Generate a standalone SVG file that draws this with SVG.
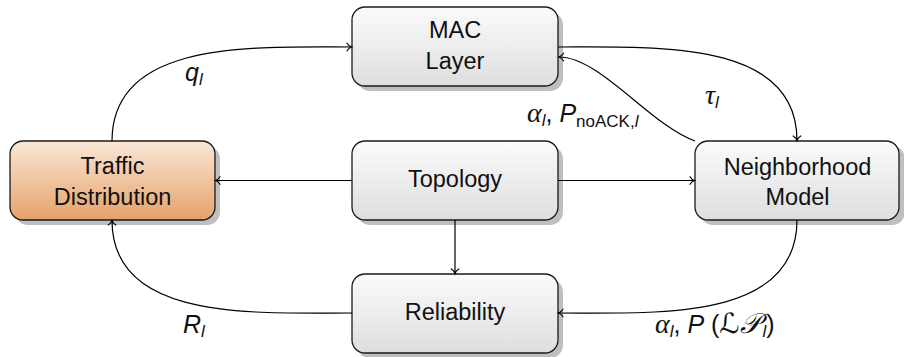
<svg xmlns="http://www.w3.org/2000/svg" width="904" height="357" viewBox="0 0 904 357">
<defs>
<linearGradient id="gGray" x1="0" y1="0" x2="0" y2="1">
<stop offset="0" stop-color="#fbfbfb"/>
<stop offset="1" stop-color="#dedede"/>
</linearGradient>
<linearGradient id="gOrange" x1="0" y1="0" x2="0" y2="1">
<stop offset="0" stop-color="#fae7d8"/>
<stop offset="1" stop-color="#e5a269"/>
</linearGradient>
<marker id="arr" markerUnits="userSpaceOnUse" markerWidth="12" markerHeight="12" viewBox="-6 -6 12 12" refX="0" refY="0" orient="auto">
<path d="M-4.5,-3.8 C-3.2,-1.6 -1.2,-0.4 0,0 C-1.2,0.4 -3.2,1.6 -4.5,3.8" fill="none" stroke="#000" stroke-width="1.2" stroke-linecap="round"/>
</marker>
</defs>
<style>
.shadow{fill:#bfbfbf}
.box{stroke:#1a1a1a;stroke-width:1.3}
.gray{fill:url(#gGray)}
.orange{fill:url(#gOrange)}
.lbl{font-family:"Liberation Sans",Arial,sans-serif;font-size:23.5px;fill:#111;text-anchor:middle}
.conn{fill:none;stroke:#000;stroke-width:1.2;marker-end:url(#arr)}
.m{font-family:"Liberation Sans",Arial,sans-serif;font-size:25px;font-style:italic;fill:#111}
.g{font-family:"Liberation Serif","DejaVu Serif",serif;font-style:italic}
.up{font-style:normal}
</style>
<g id="mac">
<rect class="shadow" x="357" y="12" width="206" height="79" rx="13"/>
<rect class="box gray" x="352" y="7" width="206" height="79" rx="13"/>
<text class="lbl" x="455" y="38">MAC</text>
<text class="lbl" x="455" y="68.5">Layer</text>
</g>
<g id="traffic">
<rect class="shadow" x="15" y="146" width="205" height="79" rx="13"/>
<rect class="box orange" x="10" y="141" width="205" height="79" rx="13"/>
<text class="lbl" x="112.5" y="174">Traffic</text>
<text class="lbl" x="112.5" y="205">Distribution</text>
</g>
<g id="topology">
<rect class="shadow" x="357" y="146" width="206" height="79" rx="13"/>
<rect class="box gray" x="352" y="141" width="206" height="79" rx="13"/>
<text class="lbl" x="455" y="187">Topology</text>
</g>
<g id="neighborhood">
<rect class="shadow" x="700" y="146" width="205" height="79" rx="13"/>
<rect class="box gray" x="695" y="141" width="204" height="79" rx="13"/>
<text class="lbl" x="797.5" y="175">Neighborhood</text>
<text class="lbl" x="797.5" y="205">Model</text>
</g>
<g id="reliability">
<rect class="shadow" x="357" y="279" width="206" height="79" rx="13"/>
<rect class="box gray" x="352" y="274" width="206" height="79" rx="13"/>
<text class="lbl" x="455" y="320">Reliability</text>
</g>
<g id="connectors">
<path class="conn" d="M112,141 C112,40 251,47 351.5,47"/>
<path class="conn" d="M558,47 C659,47 797,40 797,140.5"/>
<path class="conn" d="M695,141 C650,125 600,57 559,57"/>
<path class="conn" d="M352,180.5 L215.5,180.5"/>
<path class="conn" d="M558,180.5 L694.5,180.5"/>
<path class="conn" d="M455,220 L455,273.5"/>
<path class="conn" d="M797,220 C797,321 659,313 558.5,313"/>
<path class="conn" d="M352,313 C252,313 112,321 112,220.5"/>
</g>
<g id="labels">
<text class="m" x="185" y="81">q<tspan font-size="17" dy="4">l</tspan></text>
<text class="m" x="705" y="104"><tspan class="g" font-size="28">τ</tspan><tspan font-size="17" dy="4">l</tspan></text>
<text class="m" x="527" y="122"><tspan class="g" font-size="28">α</tspan><tspan font-size="17" dy="4">l</tspan><tspan class="up" dy="-4">, </tspan>P<tspan class="up" font-size="17" dy="5">noACK,</tspan><tspan font-size="17">l</tspan></text>
<text class="m" x="183" y="333">R<tspan font-size="17" dy="4">l</tspan></text>
<text class="m" x="655" y="333"><tspan class="g" font-size="28">α</tspan><tspan font-size="17" dy="4">l</tspan><tspan class="up" dy="-4">, </tspan>P<tspan class="up"> (</tspan><tspan font-family="'DejaVu Serif','DejaVu Sans',serif" font-style="italic" font-size="28">ℒ𝒫</tspan><tspan font-size="17" dx="3" dy="4">l</tspan><tspan class="up" dy="-4">)</tspan></text>
</g>
</svg>
